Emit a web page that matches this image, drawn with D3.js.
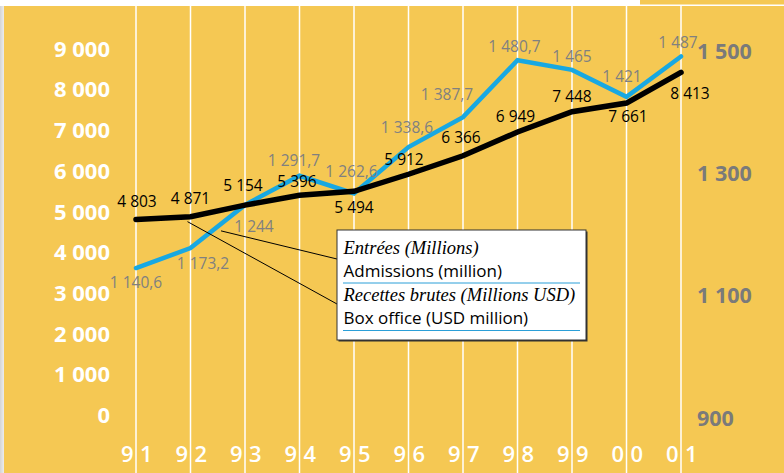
<!DOCTYPE html>
<html>
<head>
<meta charset="utf-8">
<script src="https://cdn.jsdelivr.net/npm/d3@7"></script>
<style>
  html, body { margin: 0; padding: 0; background: #fff; }
  svg { display: block; }
</style>
</head>
<body>
<svg id="chart" width="784" height="473"></svg>
<script>
// ---- data ----
const years = ["91", "92", "93", "94", "95", "96", "97", "98", "99", "00", "01"];
const admissions = [4803, 4871, 5154, 5396, 5494, 5912, 6366, 6949, 7448, 7661, 8413];
const boxOffice = [1140.6, 1173.2, 1244, 1291.7, 1262.6, 1338.6, 1387.7, 1480.7, 1465, 1421, 1487];
const leftTicks = [0, 1000, 2000, 3000, 4000, 5000, 6000, 7000, 8000, 9000];
const rightTicks = [900, 1100, 1300, 1500];
const legendLines = [
  { fr: "Entrées (Millions)", en: "Admissions (million)" },
  { fr: "Recettes brutes (Millions USD)", en: "Box office (USD million)" }
];

// ---- layout ----
const W = 784, H = 473;
const YELLOW = "#F5C853", BLUE = "#18A8E2", GREY = "#808080";
const fr = d3.formatLocale({ decimal: ",", thousands: "\u00a0", grouping: [3], currency: ["", ""] });
const fmt = fr.format(",");

const svg = d3.select("#chart");

const x = d3.scalePoint().domain(years).range([136, 681]);
const yL = d3.scaleLinear().domain([0, 9000]).range([415, 48.5]);
const yR = d3.scaleLinear().domain([900, 1500]).range([415, 48.5]);

// background
svg.append("rect").attr("x", 0).attr("y", 0).attr("width", W).attr("height", H).attr("fill", "#fff");
const grad = svg.append("defs").append("linearGradient").attr("id", "edge").attr("x1", 0).attr("x2", 1);
grad.append("stop").attr("offset", 0).attr("stop-color", "#d4d4d4");
grad.append("stop").attr("offset", 1).attr("stop-color", "#ececec");
svg.append("rect").attr("x", 0).attr("y", 6).attr("width", 4).attr("height", H - 6).attr("fill", "url(#edge)");
svg.append("rect").attr("x", 4).attr("y", 6).attr("width", W - 4).attr("height", H - 6).attr("fill", YELLOW);
svg.append("rect").attr("x", 640).attr("y", 0).attr("width", W - 640).attr("height", 4.5).attr("fill", YELLOW);

// vertical grid lines
svg.append("g").selectAll("line").data(years).join("line")
  .attr("x1", d => x(d)).attr("x2", d => x(d))
  .attr("y1", 6).attr("y2", H)
  .attr("stroke", "#fff").attr("stroke-width", 1.5);

// left axis (white)
const leftAxis = d3.axisLeft(yL).tickValues(leftTicks).tickFormat(fmt).tickSize(0).tickPadding(0);
const gL = svg.append("g").attr("transform", "translate(110,0)").call(leftAxis);
gL.select(".domain").remove();
gL.selectAll("text")
  .attr("fill", "#fff").attr("font-family", "'Open Sans', sans-serif")
  .attr("font-weight", 700).attr("font-size", 22).attr("dy", "0.35em");

// right axis (grey)
const rightAxis = d3.axisRight(yR).tickValues(rightTicks).tickFormat(fmt).tickSize(0).tickPadding(0);
const gR = svg.append("g").attr("transform", "translate(697,2.5)").call(rightAxis);
gR.select(".domain").remove();
gR.selectAll("text")
  .attr("fill", "#7a7a7a").attr("font-family", "'Open Sans', sans-serif")
  .attr("font-weight", 700).attr("font-size", 21.5).attr("dy", "0.35em");

// x labels: digits split by the grid line
const xl = svg.append("g").attr("font-family", "'Open Sans', sans-serif")
  .attr("font-weight", 600).attr("font-size", 22).attr("fill", "#fff");
xl.selectAll("text.a").data(years).join("text").attr("class", "a")
  .attr("x", d => x(d) - 2.5).attr("y", 462).attr("text-anchor", "end").text(d => d[0]);
xl.selectAll("text.b").data(years).join("text").attr("class", "b")
  .attr("x", d => x(d) + 4).attr("y", 462).attr("text-anchor", "start").text(d => d[1]);

// lines
const lineR = d3.line().x((d, i) => x(years[i])).y(d => yR(d));
const lineL = d3.line().x((d, i) => x(years[i])).y(d => yL(d));

svg.append("path").datum(boxOffice).attr("d", lineR)
  .attr("fill", "none").attr("stroke", BLUE).attr("stroke-width", 4.5)
  .attr("stroke-linejoin", "miter").attr("stroke-linecap", "round");
svg.append("path").datum(admissions).attr("d", lineL)
  .attr("fill", "none").attr("stroke", "#000").attr("stroke-width", 5.5)
  .attr("stroke-linejoin", "miter").attr("stroke-linecap", "round");

// value labels (offsets relative to points)
const admOff = [[1, -12], [0, -13], [-2, -14], [-2.5, -8], [0, 22], [-4.5, -9], [-2, -13], [-2, -10], [0, -10], [1.5, 19], [9, 27]];
const boxOff = [[0, 20], [12.5, 21], [9, 27], [-5.5, -10], [-2.5, -17], [-1.5, -14], [-16, -17], [-3, -8], [0, -8], [-4.5, -15], [-3, -8]];

svg.append("g").attr("font-family", "'Open Sans', sans-serif").attr("font-size", 15.5)
  .attr("fill", GREY).attr("text-anchor", "middle")
  .selectAll("text").data(boxOffice).join("text")
  .attr("x", (d, i) => x(years[i]) + boxOff[i][0])
  .attr("y", (d, i) => yR(d) + boxOff[i][1])
  .text(d => fmt(d));

svg.append("g").attr("font-family", "'Open Sans', sans-serif").attr("font-size", 15.5)
  .attr("fill", "#000").attr("text-anchor", "middle")
  .selectAll("text").data(admissions).join("text")
  .attr("x", (d, i) => x(years[i]) + admOff[i][0])
  .attr("y", (d, i) => yL(d) + admOff[i][1])
  .text(d => fmt(d));

// legend box
const lx = 337, ly = 230, lw = 249, lh = 110;
const ax = x(years[2]) - 24, ay = yR(boxOffice[2]) + 26;
const bx = x(years[1]) - 3, by = yL(admissions[1]) + 5;
svg.append("line").attr("x1", ax).attr("y1", ay).attr("x2", lx).attr("y2", ly + 29)
  .attr("stroke", "#000").attr("stroke-width", 1);
svg.append("line").attr("x1", bx).attr("y1", by).attr("x2", lx).attr("y2", ly + 74)
  .attr("stroke", "#000").attr("stroke-width", 1);

svg.append("rect").attr("x", lx + 1.5).attr("y", ly + 1.5).attr("width", lw).attr("height", lh).attr("fill", "#333");
svg.append("rect").attr("x", lx).attr("y", ly).attr("width", lw).attr("height", lh)
  .attr("fill", "#fff").attr("stroke", "#333").attr("stroke-width", 1);

const lg = svg.append("g");
legendLines.forEach((d, i) => {
  const y0 = ly + 23.5 + i * 47.5;
  lg.append("text").attr("x", lx + 6.5).attr("y", y0)
    .attr("font-family", "'Liberation Serif', serif").attr("font-style", "italic")
    .attr("font-size", 18.5).attr("fill", "#000").text(d.fr);
  lg.append("text").attr("x", lx + 6.5).attr("y", y0 + 23)
    .attr("font-family", "'Open Sans', sans-serif")
    .attr("font-size", 17).attr("fill", "#000").text(d.en);
  lg.append("line").attr("x1", lx + 6).attr("x2", lx + lw - 6)
    .attr("y1", y0 + 29.5).attr("y2", y0 + 29.5)
    .attr("stroke", "#2A9FD8").attr("stroke-width", 1);
});
</script>
</body>
</html>
